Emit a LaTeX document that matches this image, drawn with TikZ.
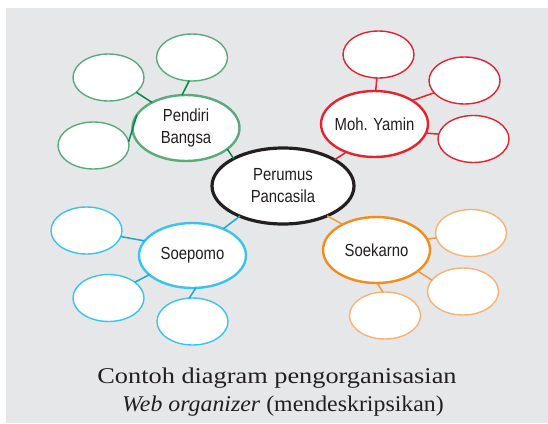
\documentclass[tikz,border=0pt]{standalone}
\usepackage{fontspec}
\newfontfamily\nodefont[FakeStretch=0.85]{Liberation Sans}
\newfontfamily\capfont[FakeStretch=1.17]{Liberation Serif}
\newfontfamily\capfontb[FakeStretch=1.06]{Liberation Serif}
\usetikzlibrary{shapes.geometric}
\definecolor{bg}{HTML}{E6E7E8}
\definecolor{txt}{HTML}{231F20}
\definecolor{gstroke}{HTML}{5AAA7A}
\definecolor{gline}{HTML}{00894B}
\definecolor{rstroke}{HTML}{E8212E}
\definecolor{bstroke}{HTML}{3AC3EE}
\definecolor{bline}{HTML}{1AA7DD}
\definecolor{ostroke}{HTML}{F28C1C}
\definecolor{osmall}{HTML}{F9B273}
\definecolor{oline}{HTML}{F39A3A}
\tikzset{
  oval/.style={ellipse, draw, fill=white, inner sep=0pt, outer sep=0pt},
  bigoval/.style={oval, line width=2.4pt, minimum width=107pt, minimum height=66pt},
  smalloval/.style={oval, line width=1.4pt, minimum width=71pt, minimum height=47pt},
  lbl/.style={font=\nodefont\fontsize{17.5}{22}\selectfont, text=txt, align=center, inner sep=0pt},
  conn/.style={line width=1.5pt},
  captxt/.style={font=\capfont\fontsize{22.5}{28}\selectfont, text=txt, inner sep=0pt, anchor=base},
  captxtb/.style={captxt, font=\capfontb\fontsize{22.5}{28}\selectfont}
}
\begin{document}
\begin{tikzpicture}[x=1pt,y=-1pt]
\useasboundingbox (0,0) rectangle (548,423);
\fill[bg] (6,8) rectangle (548,423);

% central
\node[oval, line width=3.2pt, draw=txt, minimum width=142pt, minimum height=76pt] (c) at (283,186) {};
\node[lbl] (ct) at (c) {Perumus\\Pancasila};

% Pendiri Bangsa (green)
\node[bigoval, draw=gstroke] (pb) at (186,128) {};
\node[lbl] (pbt) at (pb) {Pendiri\\Bangsa};
\node[smalloval, draw=gstroke] (g1) at (192,57.5) {};
\node[smalloval, draw=gstroke] (g2) at (108.5,77.5) {};
\node[smalloval, draw=gstroke] (g3) at (93.5,145.5) {};
\draw[conn, gline] (pb.97) -- (g1.-97);
\draw[conn, gline] (pb.143) -- (g2.-28);
\draw[conn, gline] (pb.165) -- (g3.6);
\draw[conn, gline] (pb.-27) -- (c.151);

% Moh. Yamin (red)
\node[bigoval, draw=rstroke] (ym) at (374.5,124) {};
\node[lbl] (ymt) at (ym) {Moh. Yamin};
\node[smalloval, draw=rstroke] (r1) at (378.5,54.5) {};
\node[smalloval, draw=rstroke] (r2) at (464.5,80.5) {};
\node[smalloval, draw=rstroke] (r3) at (473.5,139) {};
\draw[conn, rstroke] (ym.88) -- (r1.-94);
\draw[conn, rstroke] (ym.32) -- (r2.-158);
\draw[conn, rstroke] (ym.-10) -- (r3.172);
\draw[conn, rstroke] (ym.-135) -- (c.27);

% Soepomo (blue)
\node[bigoval, draw=bstroke, minimum height=65pt] (sp) at (192.5,255.5) {};
\node[lbl] (spt) at (sp) {Soepomo};
\node[smalloval, draw=bstroke] (b1) at (86.5,230.5) {};
\node[smalloval, draw=bstroke] (b2) at (108.5,298) {};
\node[smalloval, draw=bstroke] (b3) at (192.5,321.5) {};
\draw[conn, bline] (sp.163) -- (b1.-10);
\draw[conn, bline] (sp.204) -- (b2.31);
\draw[conn, bline] (sp.-84) -- (b3.98);
\draw[conn, bline] (sp.41) -- (c.215);

% Soekarno (orange)
\node[bigoval, draw=ostroke] (sk) at (376.5,250) {};
\node[lbl] (skt) at (sk) {Soekarno};
\node[smalloval, draw=osmall] (o1) at (471,233) {};
\node[smalloval, draw=osmall] (o2) at (463,291.5) {};
\node[smalloval, draw=osmall] (o3) at (385,315.5) {};
\draw[conn, oline] (sk.12) -- (o1.-172);
\draw[conn, oline] (sk.-27) -- (o2.160);
\draw[conn, oline] (sk.-89) -- (o3.95);
\draw[conn, oline] (sk.143) -- (c.-34);

% caption
\node[captxt] (cap1) at (277,383) {Contoh diagram pengorganisasian};
\node[captxtb] (cap2) at (283,411) {\textit{Web organizer} (mendeskripsikan)};
\end{tikzpicture}
\end{document}
